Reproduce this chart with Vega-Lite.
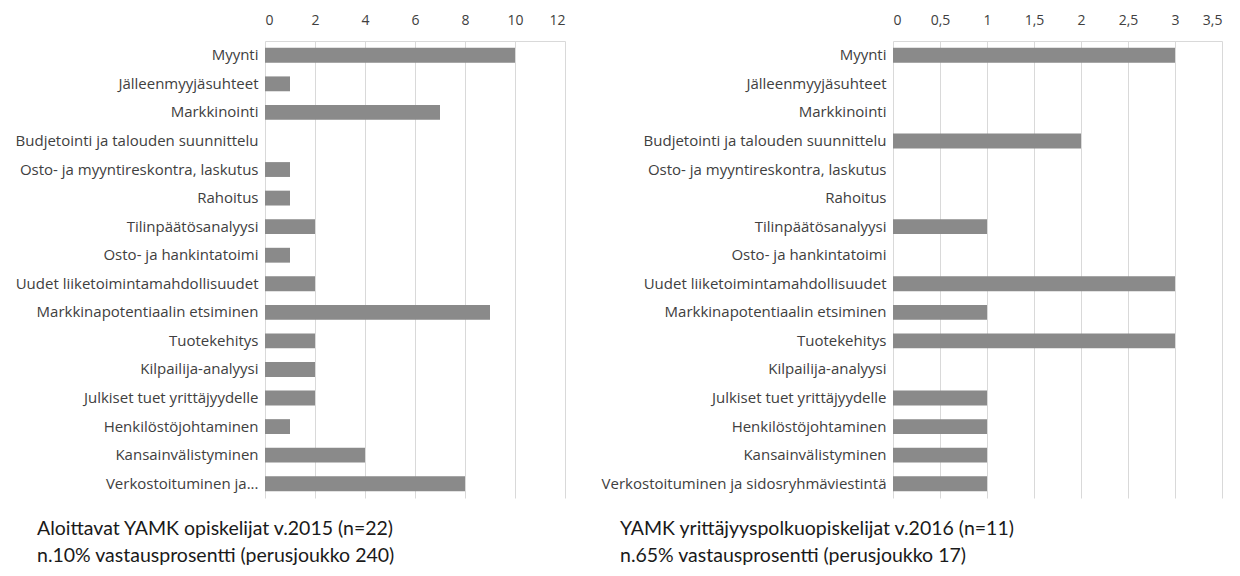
{
  "$schema": "https://vega.github.io/schema/vega-lite/v6.json",
  "background": "white",
  "padding": {"left": 15, "top": 13, "right": 5, "bottom": 5},
  "spacing": 36,
  "config": {
    "font": "Open Sans",
    "view": {"stroke": null},
    "axis": {"labelFont": "Open Sans", "labelColor": "#404040", "labelFontSize": 14, "domain": false, "ticks": false, "gridColor": "#d9d9d9", "gridWidth": 1}
  },
  "datasets": {
    "left": [
      {"aihe": "Myynti", "lkm": 10},
      {"aihe": "Jälleenmyyjäsuhteet", "lkm": 1},
      {"aihe": "Markkinointi", "lkm": 7},
      {"aihe": "Budjetointi ja talouden suunnittelu", "lkm": 0},
      {"aihe": "Osto- ja myyntireskontra, laskutus", "lkm": 1},
      {"aihe": "Rahoitus", "lkm": 1},
      {"aihe": "Tilinpäätösanalyysi", "lkm": 2},
      {"aihe": "Osto- ja hankintatoimi", "lkm": 1},
      {"aihe": "Uudet liiketoimintamahdollisuudet", "lkm": 2},
      {"aihe": "Markkinapotentiaalin etsiminen", "lkm": 9},
      {"aihe": "Tuotekehitys", "lkm": 2},
      {"aihe": "Kilpailija-analyysi", "lkm": 2},
      {"aihe": "Julkiset tuet yrittäjyydelle", "lkm": 2},
      {"aihe": "Henkilöstöjohtaminen", "lkm": 1},
      {"aihe": "Kansainvälistyminen", "lkm": 4},
      {"aihe": "Verkostoituminen ja...", "lkm": 8}
    ],
    "right": [
      {"aihe": "Myynti", "lkm": 3},
      {"aihe": "Jälleenmyyjäsuhteet", "lkm": 0},
      {"aihe": "Markkinointi", "lkm": 0},
      {"aihe": "Budjetointi ja talouden suunnittelu", "lkm": 2},
      {"aihe": "Osto- ja myyntireskontra, laskutus", "lkm": 0},
      {"aihe": "Rahoitus", "lkm": 0},
      {"aihe": "Tilinpäätösanalyysi", "lkm": 1},
      {"aihe": "Osto- ja hankintatoimi", "lkm": 0},
      {"aihe": "Uudet liiketoimintamahdollisuudet", "lkm": 3},
      {"aihe": "Markkinapotentiaalin etsiminen", "lkm": 1},
      {"aihe": "Tuotekehitys", "lkm": 3},
      {"aihe": "Kilpailija-analyysi", "lkm": 0},
      {"aihe": "Julkiset tuet yrittäjyydelle", "lkm": 1},
      {"aihe": "Henkilöstöjohtaminen", "lkm": 1},
      {"aihe": "Kansainvälistyminen", "lkm": 1},
      {"aihe": "Verkostoituminen ja sidosryhmäviestintä", "lkm": 1}
    ]
  },
  "hconcat": [
    {
      "width": 300,
      "height": 457,
      "data": {"name": "left"},
      "title": {"text": ["Aloittavat YAMK opiskelijat v.2015 (n=22)", "n.10% vastausprosentti (perusjoukko 240)"], "orient": "bottom", "anchor": "start", "frame": "group", "dx": -228, "offset": 22, "font": "Lato", "fontSize": 19.5, "fontWeight": "normal", "color": "#1a1a1a", "lineHeight": 27},
      "mark": {"type": "bar", "color": "#8a8a8a"},
      "encoding": {
        "y": {"field": "aihe", "type": "nominal", "sort": null, "title": null, "scale": {"paddingInner": 0.48, "paddingOuter": 0.24}, "axis": {"labelPadding": 7, "grid": false, "labelLimit": 340, "labelFontSize": 15}},
        "x": {"field": "lkm", "type": "quantitative", "title": null, "scale": {"domain": [0, 12], "nice": false}, "axis": {"orient": "top", "values": [0, 2, 4, 6, 8, 10, 12], "labelPadding": 14, "domain": true, "domainColor": "#d9d9d9"}}
      }
    },
    {
      "width": 329,
      "height": 457,
      "data": {"name": "right"},
      "title": {"text": ["YAMK yrittäjyyspolkuopiskelijat v.2016 (n=11)", "n.65% vastausprosentti (perusjoukko 17)"], "orient": "bottom", "anchor": "start", "frame": "group", "dx": -273, "offset": 22, "font": "Lato", "fontSize": 19.5, "fontWeight": "normal", "color": "#1a1a1a", "lineHeight": 27},
      "mark": {"type": "bar", "color": "#8a8a8a"},
      "encoding": {
        "y": {"field": "aihe", "type": "nominal", "sort": null, "title": null, "scale": {"paddingInner": 0.48, "paddingOuter": 0.24}, "axis": {"labelPadding": 7, "grid": false, "labelLimit": 340, "labelFontSize": 15}},
        "x": {"field": "lkm", "type": "quantitative", "title": null, "scale": {"domain": [0, 3.5], "nice": false}, "axis": {"orient": "top", "values": [0, 0.5, 1, 1.5, 2, 2.5, 3, 3.5], "labelExpr": "replace(format(datum.value, '~g'), '.', ',')", "labelPadding": 14, "domain": true, "domainColor": "#d9d9d9"}}
      }
    }
  ]
}
